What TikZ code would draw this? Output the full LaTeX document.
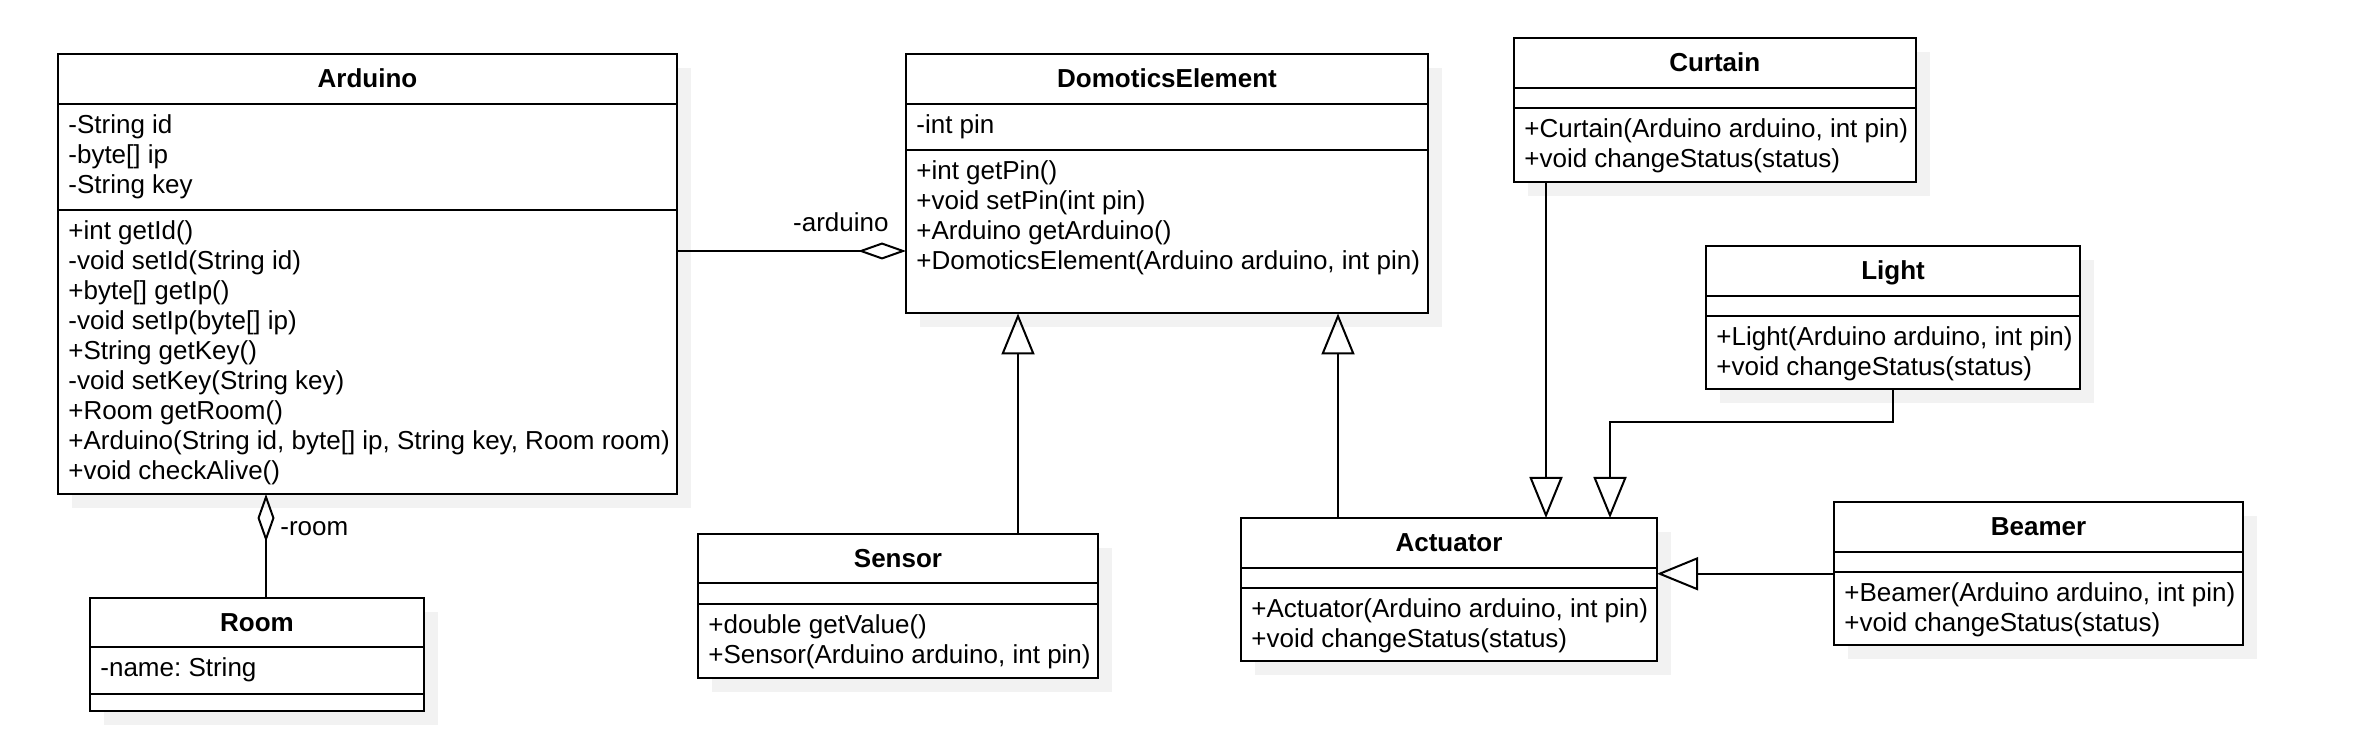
\documentclass[tikz,border=0pt]{standalone}
\usepackage{fontspec}
\setmainfont{Liberation Sans}
\usetikzlibrary{arrows.meta,fit,shadows}
\definecolor{shadowc}{HTML}{F2F2F2}
\frenchspacing
\tikzset{
  cls/.style={draw, line width=1pt, fill=white, inner sep=0pt, outer sep=0pt,
    drop shadow={fill=shadowc, opacity=1, shadow xshift=7pt, shadow yshift=-7pt}},
  sepline/.style={line width=1pt},
  ttl/.style={anchor=base, inner sep=0pt, font=\fontsize{13pt}{15pt}\selectfont\bfseries},
  mem/.style={anchor=base west, inner sep=0pt, font=\fontsize{13pt}{15pt}\selectfont},
  lbl/.style={inner sep=0pt, font=\fontsize{13pt}{15pt}\selectfont},
  inh/.style={line width=1pt, -{Triangle[open, length=20.5pt, width=16.5pt]}},
  agg/.style={line width=1pt, {Diamond[open, length=24pt, width=8.5pt]}-},
}
\newcommand\umlclass[8]{%
  \node[cls, fit={(#2,#3)(#4,#5)}] (#1) {};
  \draw[sepline] (#2,#6) -- (#4,#6);
  \draw[sepline] (#2,#7) -- (#4,#7);
  \node[ttl] (#1-title) at ({(#2+#4)/2},{#3+33.5}) {#8};
}
\newcommand\umllines[4]{%
  \foreach \mline [count=\idx] in {#4} {
    \node[mem] (#1-\idx) at (#2,{#3+30*(\idx-1)}) {\mline};
  }%
}
\begin{document}
\begin{tikzpicture}[x=0.5pt,y=-0.5pt]
\useasboundingbox (0,0) rectangle (2358,742);

% classes
\umlclass{ard}{58}{54}{677}{494}{104}{210}{Arduino}
\umllines{ard-a}{68}{133.5}{{-String id},{-byte[] ip},{-String key}}
\umllines{ard-m}{68}{239.5}{{+int getId()},{-void setId(String id)},{+byte[] getIp()},{-void setIp(byte[] ip)},{+String getKey()},{-void setKey(String key)},{+Room getRoom()},{+Arduino(String id, byte[] ip, String key, Room room)},{+void checkAlive()}}

\umlclass{room}{90}{598}{424}{711}{647}{694}{Room}
\umllines{room-a}{100}{676.5}{{-name: String}}

\umlclass{dom}{906}{54}{1428}{313.5}{104}{150}{DomoticsElement}
\umllines{dom-a}{916}{133.5}{{-int pin}}
\umllines{dom-m}{916}{179.5}{{+int getPin()},{+void setPin(int pin)},{+Arduino getArduino()},{+DomoticsElement(Arduino arduino, int pin)}}

\umlclass{sen}{698}{534}{1098}{678}{583}{604}{Sensor}
\umllines{sen-m}{708}{633.5}{{+double getValue()},{+Sensor(Arduino arduino, int pin)}}

\umlclass{act}{1241}{518}{1657}{661.5}{568}{588}{Actuator}
\umllines{act-m}{1251}{617.5}{{+Actuator(Arduino arduino, int pin)},{+void changeStatus(status)}}

\umlclass{cur}{1514}{38}{1915.5}{182}{88}{108}{Curtain}
\umllines{cur-m}{1524}{137.5}{{+Curtain(Arduino arduino, int pin)},{+void changeStatus(status)}}

\umlclass{lig}{1706}{246}{2080}{389.5}{296}{316}{Light}
\umllines{lig-m}{1716}{345.5}{{+Light(Arduino arduino, int pin)},{+void changeStatus(status)}}

\umlclass{bea}{1834}{502}{2243}{645.5}{552}{572}{Beamer}
\umllines{bea-m}{1844}{601.5}{{+Beamer(Arduino arduino, int pin)},{+void changeStatus(status)}}

% connectors
\coordinate (c1) at (677,251);
\draw[agg] (c1 -| dom.west) -- (c1 -| ard.east);
\node[lbl, anchor=base east] (lblard) at (889,231.5) {-arduino};

\coordinate (c2) at (266,600);
\draw[agg] (c2 |- ard.south) -- (c2 |- room.north);
\node[lbl, anchor=base west] (lblroom) at (280,536) {-room};

\coordinate (c3) at (1018,400);
\draw[inh] (c3 |- sen.north) -- (c3 |- dom.south);

\coordinate (c4) at (1338,400);
\draw[inh] (c4 |- act.north) -- (c4 |- dom.south);

\coordinate (c5) at (1546,300);
\draw[inh] (c5 |- cur.south) -- (c5 |- act.north);

\coordinate (c6) at (1610,422);
\draw[inh] (lig.south) |- (c6) -- (c6 |- act.north);

\draw[inh] (bea.west) -- (bea.west -| act.east);
\end{tikzpicture}
\end{document}
